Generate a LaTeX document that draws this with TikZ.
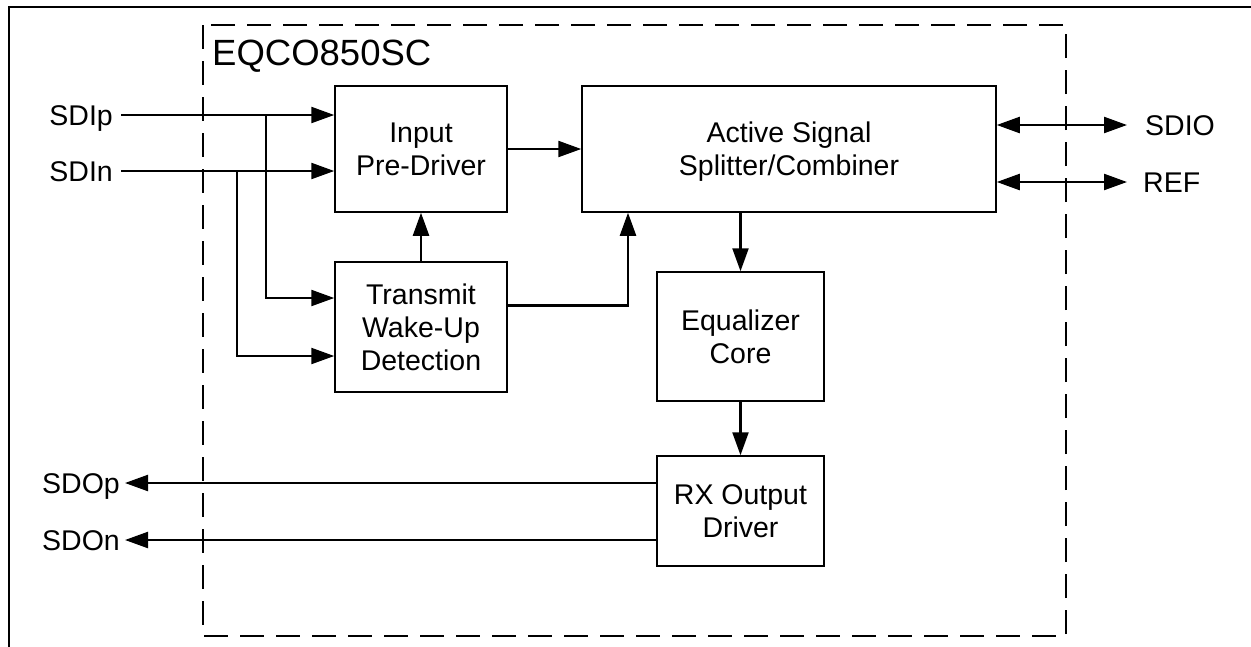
\documentclass[tikz,border=0pt]{standalone}
\usepackage{fontspec}
\setmainfont{Liberation Sans}
\usetikzlibrary{arrows.meta}
\begin{document}
\begin{tikzpicture}[x=1pt,y=-1pt,
  box/.style={draw, line width=1.5pt, inner sep=0pt, align=center, font=\fontsize{28.5}{33}\selectfont},
  lbl/.style={inner sep=0pt, font=\fontsize{28.5}{33}\selectfont},
  conn/.style={line width=2.3pt},
  tip/.style={Triangle[length=23pt,width=16pt]},
  arr/.style={conn, -{Triangle[length=23pt,width=16pt]}},
  barr/.style={conn, {Triangle[length=23pt,width=16pt]}-{Triangle[length=23pt,width=16pt]}}
]
\useasboundingbox (0,0) rectangle (1251,646);
% outer frame
\draw[line width=2.6pt] (9,670) -- (9,7) -- (1270,7);
% chip boundary
\draw[line width=1.5pt, dash pattern=on 24pt off 12pt] (203,25) rectangle (1066,636);
\node[lbl, anchor=base west, font=\fontsize{36.5}{40}\selectfont] (title) at (212,65) {EQCO850SC};

% blocks
\node[box, minimum width=172pt, minimum height=126pt] (inp) at (421,149) {Input\\Pre-Driver};
\node[box, minimum width=414pt, minimum height=126pt] (act) at (789,149) {Active Signal\\\smash{Splitter/Combiner}};
\node[box, minimum width=172pt, minimum height=130pt] (tx) at (421,327) {Transmit\\Wake-Up\\Detection};
\node[box, minimum width=167pt, minimum height=129pt] (eq) at (740.5,336.5) {Equalizer\\Core};
\node[box, minimum width=167pt, minimum height=110pt] (rx) at (740.5,511) {RX Output\\Driver};

% pin labels
\node[lbl, anchor=base east] (lsdip) at (113,125) {SDIp};
\node[lbl, anchor=base east] (lsdin) at (113,181) {SDIn};
\node[lbl, anchor=base east] (lsdop) at (120,493) {SDOp};
\node[lbl, anchor=base east] (lsdon) at (120,550) {SDOn};
\node[lbl, anchor=base west] (lsdio) at (1145,135) {SDIO};
\node[lbl, anchor=base west] (lref) at (1143,192) {REF};

% free ends and junctions
\coordinate (pin) at (121,115);
\coordinate (nin) at (121,171);
\coordinate (bp) at (266,115);
\coordinate (bn) at (237,171);
\coordinate (sdio) at (1127,125);
\coordinate (ref) at (1127,182);
\coordinate (pout) at (125,483);
\coordinate (nout) at (125,540);

% connectors
\draw[arr] (pin) -- (inp.west |- pin);
\draw[arr] (nin) -- (inp.west |- nin);
\draw[arr] (bp) |- (tx.west |- 0,298);
\draw[arr] (bn) |- (tx.west |- 0,356);
\draw[arr] (inp.east) -- (act.west);
\draw[arr] (tx.north) -- (inp.south);
\draw[arr] (tx.east |- 0,305.5) -| (act.south -| 628,0);
\draw[arr] (act.south -| eq.north) -- (eq.north);
\draw[arr] (eq.south) -- (rx.north);
\draw[barr] (act.east |- sdio) -- (sdio);
\draw[barr] (act.east |- ref) -- (ref);
\draw[arr] (rx.west |- pout) -- (pout);
\draw[arr] (rx.west |- nout) -- (nout);
\end{tikzpicture}
\end{document}
